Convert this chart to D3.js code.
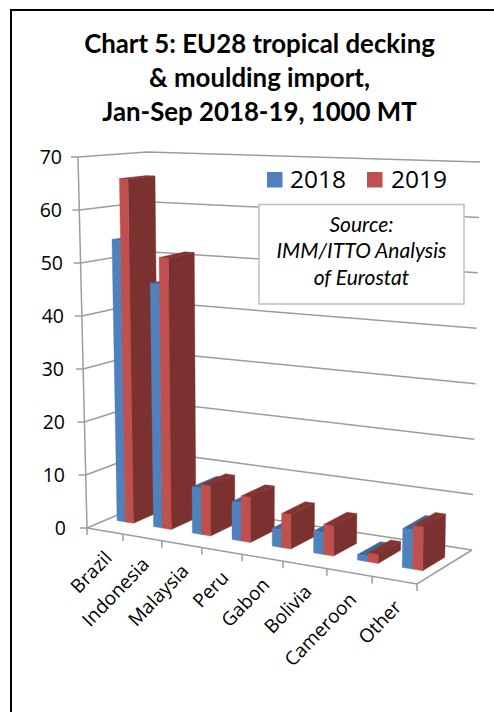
<!DOCTYPE html>
<html><head><meta charset="utf-8">
<script src="https://cdn.jsdelivr.net/npm/d3@7/dist/d3.min.js"></script>
<style>html,body{margin:0;padding:0;background:#fff}svg{display:block}text{font-family:"Open Sans",sans-serif;fill:#000}</style>
</head><body><svg id="c" width="494" height="712"></svg>
<script>
const categories=["Brazil","Indonesia","Malaysia","Peru","Gabon","Bolivia","Cameroon","Other"];
const values2018=[54,46.3,8.7,7.1,3.3,4,1,7];
const values2019=[65.8,51.4,9.4,8.4,6.3,5.5,1.6,7.8];
const yTicks=[0,10,20,30,40,50,60,70];
const seriesNames=["2018","2019"];
const titleLines=["Chart 5: EU28 tropical decking","& moulding import,","Jan-Sep 2018-19, 1000 MT"];
const sourceLines=["Source:","IMM/ITTO Analysis","of Eurostat"];

const svg=d3.select("#c");
const floor={A:[87,528],B:[417,584],C:[472,550],D:[150,501]};
const roof={A:[78,157],B:[425,189],C:[480,162],D:[147,152]};
const uScale=d3.scaleLinear().domain([0,1,2,3,4,5,6,7,8]).range([0,.109,.227,.348,.47,.594,.727,.864,1]);
const hScale=d3.scaleLinear().domain([0,70]).range([0,1]);
function bil(q,u,v,i){return q.A[i]*(1-u)*(1-v)+q.B[i]*u*(1-v)+q.C[i]*u*v+q.D[i]*(1-u)*v;}
function proj(cat,v,val){const u=uScale(cat),h=hScale(val);return [0,1].map(i=>bil(floor,u,v,i)*(1-h)+bil(roof,u,v,i)*h);}
const line=d3.line();
const grid="#9c9c9c";

svg.append("path").attr("d","M11,712V10H494").attr("fill","none").attr("stroke","#000").attr("stroke-width",2);

const title=svg.append("g");
titleLines.forEach((t,i)=>title.append("text").attr("x",259.5).attr("y",[53,87,121][i]).attr("text-anchor","middle").attr("font-size",25.8).attr("font-weight",700).style("font-family","Lato").text(t));

// walls and floor
const walls=svg.append("g").attr("fill","none").attr("stroke",grid).attr("stroke-width",1.5);
yTicks.forEach(t=>{
  walls.append("path").attr("d",line([proj(0,0,t),proj(0,1,t),proj(8,1,t)]));
  const p=proj(0,0,t);
  walls.append("path").attr("d",line([[p[0]-7,p[1]],p]));
  svg.append("text").attr("x",[66,65,65,64,64,63,62,62][yTicks.indexOf(t)]-4+4).attr("y",p[1]+7).attr("text-anchor","end").attr("font-size",19.5).text(t);
});
walls.append("path").attr("d",line([proj(0,0,0),proj(0,0,70)]));
walls.append("path").attr("d",line([proj(0,0,0),proj(8,0,0),proj(8,1,0)]));
d3.range(0,9).forEach(c=>{
  const p=proj(c,0,0);
  walls.append("path").attr("d",line([p,[p[0],p[1]+7]]));
});

// bars
const bandFrac=[.26,.49,.72];
const vFront=.33,vBack=.73;
const styles=[{front:"#4F81BD",side:"#3A6291",top:"#3F6899"},{front:"#C0504D",side:"#7B3130",top:"#843432"}];
const bars=svg.append("g");
function face(pts,fill){bars.append("path").attr("d",line(pts)+"Z").attr("fill",fill).attr("stroke",fill).attr("stroke-width",.4);}
categories.forEach((name,i)=>{
  [values2018[i],values2019[i]].forEach((val,s)=>{
    const c0=i+bandFrac[s],c1=i+bandFrac[s+1],st=styles[s];
    face([proj(c1,vFront,0),proj(c1,vBack,0),proj(c1,vBack,val),proj(c1,vFront,val)],st.side);
    face([proj(c0,vFront,val),proj(c1,vFront,val),proj(c1,vBack,val),proj(c0,vBack,val)],st.top);
    face([proj(c0,vFront,0),proj(c1,vFront,0),proj(c1,vFront,val),proj(c0,vFront,val)],st.front);
  });
});

// category labels
categories.forEach((name,i)=>{
  const p=proj(i+.5,0,0);
  svg.append("text").attr("transform",`translate(${p[0]+8},${p[1]+28}) rotate(-46)`).attr("text-anchor","end").attr("font-size",19).text(name);
});

// legend
[[267,290],[367,391]].forEach((l,i)=>{
  svg.append("rect").attr("x",l[0]).attr("y",172).attr("width",15.5).attr("height",15.5).attr("fill",styles[i].front);
  svg.append("text").attr("x",l[1]).attr("y",188).attr("font-size",24.5).text(seriesNames[i]);
});

// source box
svg.append("rect").attr("x",259).attr("y",204.5).attr("width",205).attr("height",99.5).attr("fill","#fff").attr("stroke","#bfbfbf").attr("stroke-width",1.5);
sourceLines.forEach((t,i)=>svg.append("text").attr("x",361.5).attr("y",[232,258,285][i]).attr("text-anchor","middle").attr("font-size",21).attr("font-style","italic").style("font-family","Lato").text(t));
</script></body></html>
